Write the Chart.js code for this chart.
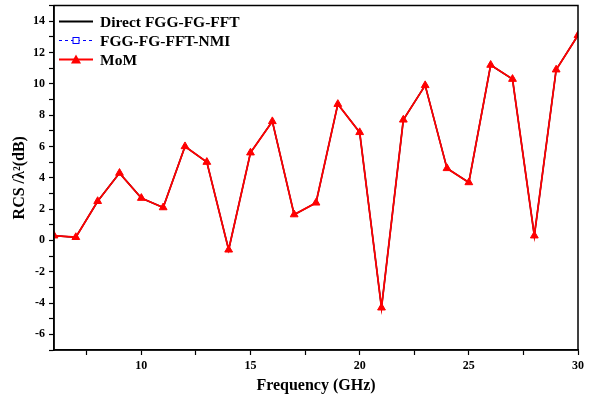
<!DOCTYPE html>
<html>
<head>
<meta charset="utf-8">
<script src="https://cdn.jsdelivr.net/npm/chart.js@4.4.1/dist/chart.umd.min.js"></script>
<style>
    html, body { margin: 0; padding: 0; background: #fff; }
    #wrap { width: 595px; height: 400px; }
</style>
</head>
<body>
<div id="wrap"><canvas id="rcsChart" width="595" height="400"></canvas></div>
<script>
// frequencies in GHz
const frequencies = [6, 7, 8, 9, 10, 11, 12, 13, 14, 15, 16, 17, 18, 19, 20, 21, 22, 23, 24, 25, 26, 27, 28, 29, 30];

// RCS / lambda^2 in dB (the three methods overlap)
const directFft = [0.3, 0.2, 2.5, 4.3, 2.7, 2.1, 6.0, 5.0, -0.6, 5.6, 7.6, 1.65, 2.4, 8.7, 6.9, -4.3, 7.7, 9.9, 4.6, 3.7, 11.2, 10.3, 0.3, 10.9, 13.1];
const nmiFft = [0.3, 0.2, 2.5, 4.3, 2.7, 2.1, 6.0, 5.0, -0.6, 5.6, 7.6, 1.65, 2.4, 8.7, 6.9, -4.3, 7.7, 9.9, 4.6, 3.7, 11.2, 10.3, 0.3, 10.9, 13.1];
const mom = [0.3, 0.2, 2.5, 4.3, 2.7, 2.1, 6.0, 5.0, -0.6, 5.6, 7.6, 1.65, 2.4, 8.7, 6.9, -4.3, 7.7, 9.9, 4.6, 3.7, 11.2, 10.3, 0.3, 10.9, 13.1];

const seriesNames = ["Direct FGG-FG-FFT", "FGG-FG-FFT-NMI", "MoM"];

const xTickLabels = [10, 15, 20, 25, 30];
const yTickLabels = [-6, -4, -2, 0, 2, 4, 6, 8, 10, 12, 14];

const serif = "'Liberation Serif', 'Times New Roman', serif";

function toPoints(values) {
    return frequencies.map((f, i) => ({ x: f, y: values[i] }));
}

// box round the plot + legend inside the top left corner
const framePlugin = {
    id: "frame",
    afterDraw(chart) {
        const { ctx, chartArea: a } = chart;
        ctx.save();
        ctx.strokeStyle = "#000";
        ctx.lineWidth = 1.5;
        ctx.strokeRect(a.left, a.top, a.right - a.left, a.bottom - a.top);

        const rows = [
            { color: "#000", dash: [], marker: null },
            { color: "#0000ff", dash: [3, 3], marker: "square" },
            { color: "#ff0000", dash: [], marker: "triangle" }
        ];
        const x0 = a.left + 5, x1 = a.left + 39, tx = a.left + 46;
        ctx.font = "bold 15.5px " + serif;
        ctx.textBaseline = "middle";
        rows.forEach((row, i) => {
            const y = a.top + 16 + i * 19;
            ctx.beginPath();
            ctx.setLineDash(row.dash);
            ctx.strokeStyle = row.color;
            ctx.lineWidth = row.marker === "square" ? 1 : 1.8;
            ctx.moveTo(x0, y);
            ctx.lineTo(x1, y);
            ctx.stroke();
            ctx.setLineDash([]);
            const mx = (x0 + x1) / 2;
            if (row.marker === "square") {
                ctx.fillStyle = "#fff";
                ctx.fillRect(mx - 3, y - 3, 6, 6);
                ctx.lineWidth = 1;
                ctx.strokeRect(mx - 3, y - 3, 6, 6);
            } else if (row.marker === "triangle") {
                ctx.fillStyle = row.color;
                ctx.beginPath();
                ctx.moveTo(mx, y - 5);
                ctx.lineTo(mx + 5, y + 4);
                ctx.lineTo(mx - 5, y + 4);
                ctx.closePath();
                ctx.fill();
            }
            ctx.fillStyle = "#000";
            ctx.fillText(seriesNames[i], tx, y + 1);
        });
        ctx.restore();
    }
};

const tickFont = { family: serif, size: 12, weight: "bold" };
const titleFont = { family: serif, size: 16, weight: "bold" };

new Chart(document.getElementById("rcsChart"), {
    type: "scatter",
    data: {
        datasets: [
            {
                label: seriesNames[0],
                data: toPoints(directFft),
                showLine: true,
                borderColor: "#000",
                borderWidth: 1.5,
                pointRadius: 0,
                order: 3
            },
            {
                label: seriesNames[1],
                data: toPoints(nmiFft),
                showLine: true,
                borderColor: "#0000ff",
                borderWidth: 1,
                borderDash: [3, 3],
                pointStyle: "rect",
                pointRadius: 2,
                pointBackgroundColor: "#fff",
                pointBorderColor: "#0000ff",
                pointBorderWidth: 1,
                order: 2
            },
            {
                label: seriesNames[2],
                data: toPoints(mom),
                showLine: true,
                borderColor: "#ff0000",
                borderWidth: 1.8,
                pointStyle: "triangle",
                pointRadius: 4.5,
                pointBackgroundColor: "#ff0000",
                pointBorderColor: "#ff0000",
                pointBorderWidth: 1,
                order: 1
            }
        ]
    },
    options: {
        responsive: false,
        animation: false,
        layout: { padding: { left: 0, right: 17, top: 1.5, bottom: 0 } },
        plugins: {
            legend: { display: false },
            tooltip: { enabled: false }
        },
        scales: {
            x: {
                type: "linear",
                min: 6,
                max: 30,
                afterFit(scale) {
                    scale.height = 50;
                    scale.paddingLeft = 0;
                    scale.paddingRight = 0;
                },
                border: { color: "#000", width: 1.5 },
                grid: { drawOnChartArea: false, color: "#000", tickLength: 5, tickWidth: 1.2 },
                ticks: {
                    stepSize: 2.5,
                    includeBounds: false,
                    color: "#000",
                    font: tickFont,
                    padding: 4,
                    maxRotation: 0,
                    autoSkip: false,
                    callback: v => xTickLabels.includes(v) ? String(v) : ""
                },
                title: {
                    display: true,
                    text: "Frequency (GHz)",
                    color: "#000",
                    font: titleFont,
                    padding: { top: 0, bottom: 4.5 }
                }
            },
            y: {
                min: -7,
                max: 15,
                afterFit(scale) {
                    scale.width = 54;
                    scale.paddingTop = 0;
                    scale.paddingBottom = 0;
                },
                border: { color: "#000", width: 1.5 },
                grid: { drawOnChartArea: false, color: "#000", tickLength: 5, tickWidth: 1.2 },
                ticks: {
                    stepSize: 1,
                    includeBounds: false,
                    color: "#000",
                    font: tickFont,
                    padding: 4,
                    autoSkip: false,
                    callback: v => yTickLabels.includes(v) ? String(v) : ""
                },
                title: {
                    display: true,
                    text: "RCS /λ²(dB)",
                    color: "#000",
                    font: titleFont,
                    padding: { top: 10.4, bottom: 0 }
                }
            }
        }
    },
    plugins: [framePlugin]
});
</script>
</body>
</html>
